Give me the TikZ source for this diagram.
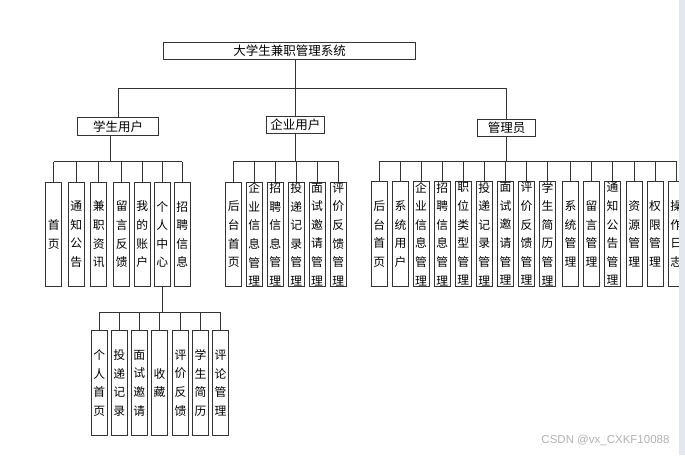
\documentclass[tikz,border=0pt]{standalone}
\usepackage{fontspec}
\newfontfamily\cjk{Noto Sans CJK SC}
\setsansfont{Liberation Sans}
\definecolor{stripgray}{RGB}{227,232,238}

\begin{document}
\begin{tikzpicture}[
    x=1pt, y=-1pt,
    every node/.style={font=\cjk},
    tree/.style={draw=black!80, line width=0.9pt},
    headbox/.style={draw=black!80, line width=0.9pt, fill=white, inner sep=0pt,
        font=\cjk\fontsize{12.5}{14}\selectfont},
    item/.style={draw=black!80, line width=0.9pt, fill=white, inner sep=0pt, anchor=north,
        minimum width=16pt, minimum height=104.5pt, align=center,
        font=\cjk\fontsize{11.8}{18.6}\selectfont},
]
\useasboundingbox (0,0) rectangle (685,455);
\fill[white] (0,0) rectangle (685,455);

% === Root ===
\node[headbox, minimum width=252.5pt, minimum height=17pt] (root) at (289.5,50.8) {大学生兼职管理系统};

% === User roles ===
\node[headbox, minimum width=80.6pt, minimum height=17.3pt] (stu) at (118,126.3) {学生用户};
\node[headbox, minimum width=57.3pt, minimum height=17.3pt] (ent) at (295.3,124.7) {企业用户};
\node[headbox, minimum width=58.4pt, minimum height=16.7pt] (adm) at (506.5,127.7) {管理员};

\coordinate (bus0) at (0,88.7);
\draw[tree] ([xshift=5.5pt]root.south) -- ([xshift=5.5pt]root.south |- bus0);
\draw[tree] (stu.north |- bus0) -- (adm.north |- bus0);
\foreach \p in {stu,ent,adm}
    \draw[tree] (\p.north |- bus0) -- (\p.north);

% === Student functions ===
\coordinate (busS) at (0,161.6);
\foreach \x/\t [count=\i] in {53.8/{首\\页}, 76.3/{通\\知\\公\\告}, 98.7/{兼\\职\\资\\讯},
        121.7/{留\\言\\反\\馈}, 142.3/{我\\的\\账\\户}, 162.2/{个\\人\\中\\心}, 182.2/{招\\聘\\信\\息}} {
    \node[item] (stu\i) at (\x,181.7) {\t};
    \draw[tree] (stu\i.north) -- (stu\i.north |- busS);
}
\draw[tree] (stu1.north |- busS) -- (stu7.north |- busS);
\draw[tree] ([xshift=-8pt]stu.south) -- ([xshift=-8pt]stu.south |- busS);

% === Personal centre ===
\coordinate (busP) at (0,312.7);
\foreach \x/\t [count=\i] in {99.2/{个\\人\\首\\页}, 119.2/{投\\递\\记\\录}, 139.2/{面\\试\\邀\\请},
        159.5/{收\\藏}, 180.5/{评\\价\\反\\馈}, 200.5/{学\\生\\简\\历}, 220.5/{评\\论\\管\\理}} {
    \node[item] (per\i) at (\x,330.3) {\t};
    \draw[tree] (per\i.north) -- (per\i.north |- busP);
}
\draw[tree] (per1.north |- busP) -- (per7.north |- busP);
\draw[tree] (stu6.south) -- (stu6.south |- busP);

% === Enterprise functions ===
\coordinate (busE) at (0,161.2);
\foreach \x/\t [count=\i] in {233.7/{后\\台\\首\\页}, 254.2/{企\\业\\信\\息\\管\\理}, 275.3/{招\\聘\\信\\息\\管\\理},
        296.2/{投\\递\\记\\录\\管\\理}, 317/{面\\试\\邀\\请\\管\\理}, 338.3/{评\\价\\反\\馈\\管\\理}} {
    \node[item] (ent\i) at (\x,181.7) {\t};
    \draw[tree] (ent\i.north) -- (ent\i.north |- busE);
}
\draw[tree] (ent1.north |- busE) -- (ent6.north |- busE);
\draw[tree] (ent.south) -- (ent.south |- busE);

% === Admin functions ===
\coordinate (busA) at (0,161.2);
\foreach \x/\t [count=\i] in {379.3/{后\\台\\首\\页}, 400.6/{系\\统\\用\\户}, 421/{企\\业\\信\\息\\管\\理},
        442.3/{招\\聘\\信\\息\\管\\理}, 463.3/{职\\位\\类\\型\\管\\理}, 484.3/{投\\递\\记\\录\\管\\理},
        505.6/{面\\试\\邀\\请\\管\\理}, 526.6/{评\\价\\反\\馈\\管\\理}, 547.6/{学\\生\\简\\历\\管\\理},
        570.6/{系\\统\\管\\理}, 591.6/{留\\言\\管\\理}, 612.6/{通\\知\\公\\告\\管\\理},
        634.3/{资\\源\\管\\理}, 655/{权\\限\\管\\理}, 676.3/{操\\作\\日\\志}} {
    \node[item] (adm\i) at (\x,181.2) {\t};
    \draw[tree] (adm\i.north) -- (adm\i.north |- busA);
}
\draw[tree] (adm1.north |- busA) -- (adm15.north |- busA);
\draw[tree] (adm.south) -- (adm.south |- busA);

% === Page edge and watermark ===
\fill[stripgray] (679,0) rectangle (685,455);
\node[font=\sffamily\fontsize{11.5}{12}\selectfont, text=black!30, anchor=east] (mark) at (673,440.7) {CSDN @vx\_CXKF10088};

\end{tikzpicture}
\end{document}
